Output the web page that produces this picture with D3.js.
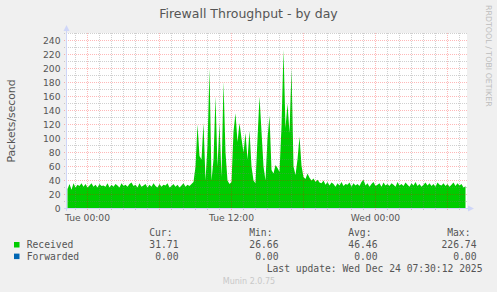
<!DOCTYPE html>
<html><head><meta charset="utf-8">
<script src="https://cdn.jsdelivr.net/npm/d3@7"></script>
<style>html,body{margin:0;padding:0;background:#f0f0f0;overflow:hidden}svg{display:block}</style>
</head><body><svg id="c" width="497" height="292"></svg>
<script>
// ---- data (packets/second, one sample every 10 minutes) ----
const received = [
  28,35,26.66,36,30,34,32,36,31,35,
  30,33,36,31,34,30,35,32,33,31,
  36,30,34,31,35,33,30,36,32,34,
  31,35,37,32,34,30,36,31,33,35,
  30,34,31,36,32,30,35,31,34,33,
  36,30,32,35,31,34,30,33,36,31,
  34,32,35,38,
  60,120,75,70,122,40,90,200,40,70,
  160,60,122,45,181,80,40,35,38,110,
  136,95,122,100,80,108,70,111,60,40,
  36,100,160,110,60,40,100,133,55,50,
  62,58,52,117,226.74,115,150,108,200,60,
  48,70,103,61,45,42,50,44,40,43,
  38,41,37,
  36,40,34,38,33,37,35,31,36,33,
  38,32,35,34,37,31,36,33,35,32,
  38,41,33,36,31,35,38,32,34,36,
  31,37,33,35,32,36,34,31,38,33,
  35,32,37,34,31,36,33,38,32,35,
  31,34,37,33,36,32,35,31,37,34,
  33,36,32,35,31,34,37,32,36,33,
  35,30,31.71
];
const stepMinutes = 10;
const firstSample = Date.UTC(2025, 11, 22, 22, 20);
const viewStart = Date.UTC(2025, 11, 22, 22, 15);
const viewEnd = Date.UTC(2025, 11, 24, 7, 35);

const xLabels = ["Tue 00:00", "Tue 12:00", "Wed 00:00"];
const xLabelTimes = [Date.UTC(2025, 11, 23, 0, 0), Date.UTC(2025, 11, 23, 12, 0), Date.UTC(2025, 11, 24, 0, 0)];
const yMajorTicks = [0, 20, 40, 60, 80, 100, 120, 140, 160, 180, 200, 220, 240];
const yMinorTicks = [10, 30, 50, 70, 90, 110, 130, 150, 170, 190, 210, 230, 250];

const seriesNames = ["Received", "Forwarded"];
const seriesColors = ["#00cc00", "#0066b3"];
const statHeaders = ["Cur:", "Min:", "Avg:", "Max:"];
const statCur = ["31.71", "0.00"];
const statMin = ["26.66", "0.00"];
const statAvg = ["46.46", "0.00"];
const statMax = ["226.74", "0.00"];

const title = "Firewall Throughput - by day";
const yTitle = "Packets/second";
const lastUpdate = "Last update: Wed Dec 24 07:30:12 2025";
const watermark = "Munin 2.0.75";
const sideText = "RRDTOOL / TOBI OETIKER";

// ---- drawing ----
const svg = d3.select("#c");
const x = d3.scaleUtc().domain([viewStart, viewEnd]).range([66.5, 466.5]);
const y = d3.scaleLinear().domain([0, 250]).range([208.5, 33.5]);
const axisColor = "#cfd6f8";
const minorColor = "rgba(120,120,120,0.35)";
const majorColor = "rgba(255,0,0,0.28)";

svg.append("rect").attr("width", 497).attr("height", 292).attr("fill", "#f0f0f0");
svg.append("rect").attr("x", 67).attr("y", 33).attr("width", 400).attr("height", 175.5).attr("fill", "#ffffff");

// area
const area = d3.area()
  .x((d, i) => x(firstSample + i * stepMinutes * 60000))
  .y0(y(0))
  .y1(d => y(d));
svg.append("path").datum(received).attr("d", area).attr("fill", seriesColors[0]);

// grid (drawn over data, semi-transparent like rrdtool)
const hours = d3.utcHours(new Date(viewStart), new Date(viewEnd));
const gGrid = svg.append("g").attr("fill", "none").attr("stroke-width", 1).attr("stroke-dasharray", "1,1");
gGrid.selectAll(".vmin").data(hours.filter(h => h.getUTCHours() % 6 !== 0)).join("line")
  .attr("x1", d => x(d)).attr("x2", d => x(d)).attr("y1", 33).attr("y2", 211)
  .attr("stroke", minorColor);
gGrid.selectAll(".hmin").data(yMinorTicks).join("line")
  .attr("x1", 64).attr("x2", 467).attr("y1", d => y(d)).attr("y2", d => y(d))
  .attr("stroke", minorColor);
gGrid.selectAll(".vmaj").data(hours.filter(h => h.getUTCHours() % 6 === 0)).join("line")
  .attr("x1", d => x(d)).attr("x2", d => x(d)).attr("y1", 33).attr("y2", 211)
  .attr("stroke", majorColor);
gGrid.selectAll(".hmaj").data(yMajorTicks).join("line")
  .attr("x1", 64).attr("x2", 467).attr("y1", d => y(d)).attr("y2", d => y(d))
  .attr("stroke", majorColor);

// axes
svg.append("line").attr("x1", 66.5).attr("x2", 66.5).attr("y1", 211).attr("y2", 29).attr("stroke", axisColor);
svg.append("path").attr("d", "M63.5,31L69.5,31L66.5,25Z").attr("fill", axisColor);
svg.append("line").attr("x1", 64).attr("x2", 469).attr("y1", 208.5).attr("y2", 208.5).attr("stroke", axisColor);
svg.append("path").attr("d", "M468,205.5L468,211.5L474,208.5Z").attr("fill", axisColor);

// tick labels
const sans = "'DejaVu Sans', sans-serif";
const mono = "'DejaVu Sans Mono', monospace";
svg.append("g").selectAll("text").data(yMajorTicks).join("text")
  .attr("x", 60.5).attr("y", d => y(d) + 3.4).attr("text-anchor", "end")
  .attr("font-family", sans).attr("font-size", 9.2).attr("fill", "#555").text(d => d);
svg.append("g").selectAll("text").data(xLabels).join("text")
  .attr("x", (d, i) => x(xLabelTimes[i])).attr("y", 220.5).attr("text-anchor", "middle")
  .attr("font-family", sans).attr("font-size", 9.2).attr("fill", "#555").text(d => d);

// titles
svg.append("text").attr("x", 248.5).attr("y", 17.5).attr("text-anchor", "middle")
  .attr("font-family", sans).attr("font-size", 12.5).attr("fill", "#555").text(title);
svg.append("text").attr("transform", "translate(15,121) rotate(-90)").attr("text-anchor", "middle")
  .attr("font-family", sans).attr("font-size", 10.8).attr("fill", "#555").text(yTitle);
svg.append("text").attr("transform", "translate(485.5,5) rotate(90)").attr("text-anchor", "start")
  .attr("font-family", sans).attr("font-size", 7.9).attr("fill", "#bdbdbd").text(sideText);

// legend
const lg = svg.append("g").attr("font-family", mono).attr("font-size", 9.7).attr("fill", "#555");
const headerEnds = [172.5, 272.5, 371.5, 470.5];
const valueEnds = [178.5, 278.5, 377.5, 476.5];
lg.selectAll(".h").data(statHeaders).join("text")
  .attr("x", (d, i) => headerEnds[i]).attr("y", 236.3).attr("text-anchor", "end").text(d => d);
const rowsY = [248.2, 259.8];
const statCols = [statCur, statMin, statAvg, statMax];
seriesNames.forEach((name, r) => {
  lg.append("rect").attr("x", 14).attr("y", rowsY[r] - 6.2).attr("width", 5.5).attr("height", 5.5).attr("fill", seriesColors[r]);
  lg.append("text").attr("x", 26.7).attr("y", rowsY[r]).text(name);
  statCols.forEach((col, c) => {
    lg.append("text").attr("x", valueEnds[c]).attr("y", rowsY[r]).attr("text-anchor", "end").text(col[r]);
  });
});
lg.append("text").attr("x", 482.5).attr("y", 271.8).attr("text-anchor", "end").text(lastUpdate);
svg.append("text").attr("x", 249).attr("y", 283.5).attr("text-anchor", "middle")
  .attr("font-family", sans).attr("font-size", 8).attr("fill", "#c8c8c8").text(watermark);
</script>
</body></html>
